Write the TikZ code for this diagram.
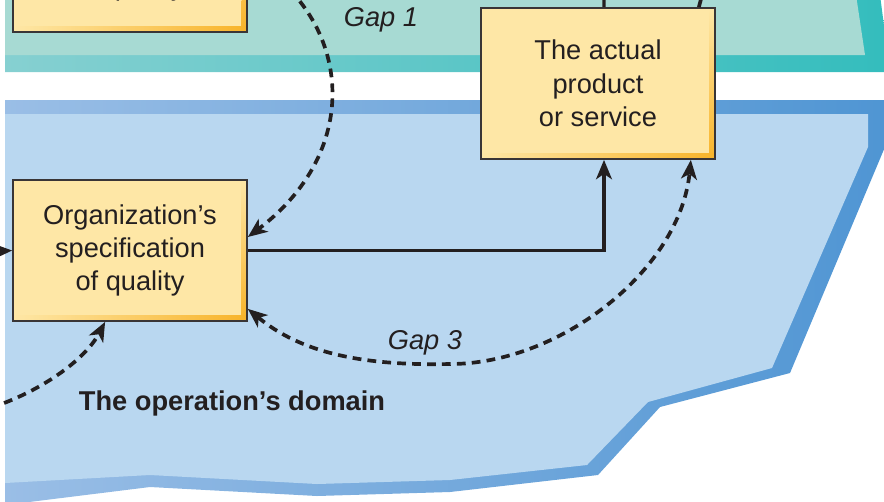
\documentclass[tikz,border=0pt]{standalone}
\usepackage{fontspec}
\setmainfont{Liberation Sans}
\usetikzlibrary{arrows.meta}

\definecolor{tealfill}{HTML}{A7DAD3}
\definecolor{tealedgeL}{HTML}{86D0D1}
\definecolor{tealedgeR}{HTML}{34BDBD}
\definecolor{bluefill}{HTML}{B9D7F0}
\definecolor{blueedgeL}{HTML}{9ABEE6}
\definecolor{blueedgeR}{HTML}{4F95D3}
\definecolor{boxfill}{HTML}{FEE7A6}
\definecolor{boxedge}{HTML}{F8B42A}
\definecolor{ink}{HTML}{231F20}

\begin{document}
\begin{tikzpicture}[x=0.02cm, y=-0.02cm,
    box/.style={draw=ink!90, line width=1pt, fill=boxfill, minimum width=4.68cm,
      align=center, text=ink, font=\fontsize{15.5}{19}\selectfont,
      path picture={
        \shade[top color=boxfill, bottom color=boxedge]
          ([xshift=-3pt]path picture bounding box.north east) rectangle (path picture bounding box.south east);
        \shade[left color=boxfill, right color=boxedge]
          ([yshift=3pt]path picture bounding box.south west) rectangle (path picture bounding box.south east);
      }},
    flowline/.style={line width=1.9pt, color=ink},
    gapline/.style={line width=2.1pt, color=ink, dash pattern=on 5pt off 3.5pt},
    gaplabel/.style={text=ink, font=\fontsize{15.5}{19}\selectfont\itshape},
    tip/.tip={Stealth[length=11pt, width=9pt, inset=3pt]}]

    \useasboundingbox (0,0) rectangle (884,501);
    \clip (0,0) rectangle (884,501);

    % 領域
    \shade[left color=tealedgeL, right color=tealedgeR]
      (5,-5) -- (880,-5) -- (890,72) -- (5,72) -- cycle;
    \fill[tealfill] (5,-5) -- (856,-5) -- (865,55) -- (5,55) -- cycle;
    \shade[left color=blueedgeL, right color=blueedgeR]
      (5,100) -- (890,100) -- (890,135) -- (790,373) -- (660,407) -- (598,475)
      -- (450,492) -- (317,496) -- (150,487) -- (5,505) -- cycle;
    \fill[bluefill]
      (5,114) -- (868,114) -- (868,147) -- (772,368) -- (648,402) -- (587,465)
      -- (450,480) -- (317,484) -- (150,475) -- (5,483) -- cycle;

    % ボックス
    \node[box, minimum height=3.06cm] (cust) at (130,-44.5) {Customer’s\\specification\\of quality};
    \node[box, minimum height=2.82cm] (org) at (130,250.5) {Organization’s\\specification\\of quality};
    \node[box, minimum height=3.02cm] (actual) at (598,83.5) {The actual\\product\\or service};

    \node[gaplabel] (gap1) at (381,20) {Gap 1};
    \node[gaplabel] (gap3) at (425,343) {Gap 3};
    \node[text=ink, font=\fontsize{15.5}{19}\selectfont\bfseries] (domain) at (232,403) {The operation’s domain};

    \coordinate (in1) at (-20,252);
    \coordinate (up1) at (604,-20);
    \coordinate (g1start) at (290,-10);
    \coordinate (g2start) at (-10,408);
    \coordinate (g4end) at (706,-20);

    % 矢印を引く
    \draw[flowline, -tip] (in1) -- (org.west);
    \draw[flowline, -tip] (org.east) -| ([xshift=0.12cm]actual.south);
    \draw[flowline] ([xshift=0.12cm]actual.north) -- (up1);
    \draw[gapline] ([xshift=-0.34cm]actual.north east) -- (g4end);
    \draw[gapline, -tip] (g1start) .. controls (352,55) and (350,160) .. ([yshift=0.27cm]org.east);
    \draw[gapline, -tip] (g2start) .. controls (40,392) and (85,360) .. ([xshift=1.86cm]org.south west);
    \draw[gapline, tip-tip] ([yshift=0.26cm]org.south east) .. controls (300,352) and (360,366) .. (450,364)
      .. controls (560,364) and (680,270) .. ([xshift=-0.5cm]actual.south east);
  \end{tikzpicture}
\end{document}
